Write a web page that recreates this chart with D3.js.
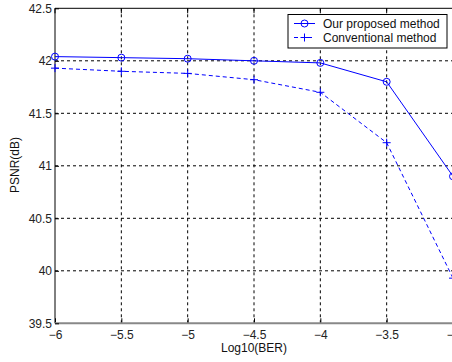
<!DOCTYPE html>
<html>
<head>
<meta charset="utf-8">
<script src="https://cdn.jsdelivr.net/npm/d3@7"></script>
<style>
  body { margin: 0; background: #fff; }
  svg { display: block; font-family: 'Liberation Sans', Arial, sans-serif; }
</style>
</head>
<body>
<svg id="chart" width="452" height="362"></svg>
<script>
const berLog = [-6, -5.5, -5, -4.5, -4, -3.5, -3];
const proposed = [42.04, 42.03, 42.02, 42.0, 41.98, 41.8, 40.9];
const conventional = [41.93, 41.9, 41.88, 41.82, 41.7, 41.22, 39.93];
const xTicks = [-6, -5.5, -5, -4.5, -4, -3.5, -3];
const yTicks = [39.5, 40, 40.5, 41, 41.5, 42, 42.5];

const svg = d3.select('#chart');
const plotL = 55, plotR = 453, plotT = 8.3, plotB = 323.3;

svg.append('rect').attr('width', 452).attr('height', 362).attr('fill', '#fff');

const x = d3.scaleLinear().domain([-6, -3]).range([plotL, plotR]);
const y = d3.scaleLinear().domain([39.5, 42.5]).range([plotB, plotT]);

// grid
svg.append('g')
  .selectAll('line')
  .data(xTicks.slice(1, -1))
  .join('line')
  .attr('x1', d => x(d)).attr('x2', d => x(d))
  .attr('y1', plotT).attr('y2', plotB)
  .attr('stroke', '#000').attr('stroke-dasharray', '3,3');

svg.append('g')
  .selectAll('line')
  .data(yTicks.slice(1, -1))
  .join('line')
  .attr('x1', plotL).attr('x2', plotR)
  .attr('y1', d => y(d)).attr('y2', d => y(d))
  .attr('stroke', '#000').attr('stroke-dasharray', '3,3');

// frame
svg.append('line').attr('x1', plotL).attr('x2', plotR).attr('y1', plotT).attr('y2', plotT).attr('stroke', '#000');
svg.append('line').attr('x1', plotL).attr('x2', plotL).attr('y1', plotT).attr('y2', plotB).attr('stroke', '#000');

// axes (ticks pointing inward)
const xAxis = svg.append('g')
  .attr('transform', `translate(0,${plotB})`)
  .call(d3.axisBottom(x).tickValues(xTicks).tickSize(-5).tickPadding(7).tickFormat(d3.format('')));
xAxis.select('.domain').remove();
xAxis.selectAll('.tick line').attr('stroke', '#000');
xAxis.selectAll('text').attr('font-size', 12).attr('fill', '#222').attr('font-family', 'Liberation Sans, Arial');

svg.append('line').attr('x1', plotL).attr('x2', plotR).attr('y1', plotB).attr('y2', plotB)
  .attr('stroke', '#888').attr('stroke-width', 2);

const yAxis = svg.append('g')
  .attr('transform', `translate(${plotL},0)`)
  .call(d3.axisLeft(y).tickValues(yTicks).tickSize(-4).tickPadding(3).tickFormat(d3.format('')));
yAxis.select('.domain').remove();
yAxis.selectAll('.tick line').attr('stroke', '#000');
yAxis.selectAll('text').attr('font-size', 12).attr('fill', '#222').attr('font-family', 'Liberation Sans, Arial');

// top ticks
svg.append('g')
  .selectAll('line')
  .data(xTicks)
  .join('line')
  .attr('x1', d => x(d)).attr('x2', d => x(d))
  .attr('y1', plotT).attr('y2', plotT + 5)
  .attr('stroke', '#000');

// series
const line = d3.line().x((d, i) => x(berLog[i])).y(d => y(d));

svg.append('path').datum(proposed)
  .attr('d', line).attr('fill', 'none').attr('stroke', '#0000ff').attr('stroke-width', 1);
svg.append('path').datum(conventional)
  .attr('d', line).attr('fill', 'none').attr('stroke', '#0000ff').attr('stroke-width', 1)
  .attr('stroke-dasharray', '4,3');

svg.append('g').selectAll('circle')
  .data(proposed)
  .join('circle')
  .attr('cx', (d, i) => x(berLog[i])).attr('cy', d => y(d)).attr('r', 3.5)
  .attr('fill', 'none').attr('stroke', '#0000ff');

svg.append('g').selectAll('path')
  .data(conventional)
  .join('path')
  .attr('d', (d, i) => {
    const cx = x(berLog[i]), cy = y(d);
    return `M${cx - 4},${cy}H${cx + 4}M${cx},${cy - 4}V${cy + 4}`;
  })
  .attr('stroke', '#0000ff').attr('fill', 'none');

// legend
const lg = svg.append('g');
lg.append('rect').attr('x', 288).attr('y', 14.5).attr('width', 159).attr('height', 33.5)
  .attr('fill', '#fff').attr('stroke', '#000');
lg.append('line').attr('x1', 294).attr('x2', 315).attr('y1', 23.5).attr('y2', 23.5).attr('stroke', '#0000ff');
lg.append('circle').attr('cx', 304.5).attr('cy', 23.5).attr('r', 3.5).attr('fill', 'none').attr('stroke', '#0000ff');
lg.append('line').attr('x1', 294).attr('x2', 315).attr('y1', 37.5).attr('y2', 37.5).attr('stroke', '#0000ff')
  .attr('stroke-dasharray', '4,3');
lg.append('path').attr('d', 'M300.5,37.5H308.5M304.5,33.5V41.5').attr('stroke', '#0000ff');
lg.append('text').attr('x', 323).attr('y', 27.5).attr('font-size', 12).attr('fill', '#111').text('Our proposed method');
lg.append('text').attr('x', 323).attr('y', 41.5).attr('font-size', 12).attr('fill', '#111').text('Conventional method');

// axis labels
svg.append('text').attr('x', 254).attr('y', 352).attr('text-anchor', 'middle')
  .attr('font-size', 12).attr('fill', '#111').text('Log10(BER)');
svg.append('text').attr('transform', 'translate(19,165) rotate(-90)').attr('text-anchor', 'middle')
  .attr('font-size', 12).attr('fill', '#111').text('PSNR(dB)');
</script>
</body>
</html>
